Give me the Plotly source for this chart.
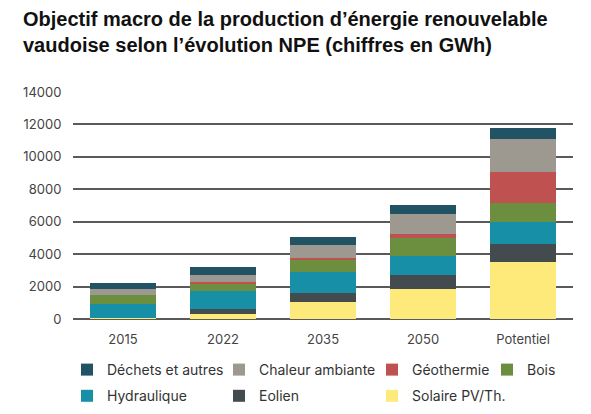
import plotly.graph_objects as go

categories = ["2015", "2022", "2035", "2050", "Potentiel"]

solaire = [75, 310, 1030, 1830, 3540]
eolien = [0, 290, 600, 865, 1110]
hydraulique = [865, 1130, 1255, 1170, 1360]
bois = [535, 475, 800, 1150, 1150]
geothermie = [0, 100, 60, 250, 1890]
chaleur = [355, 430, 845, 1215, 2080]
dechets = [360, 495, 495, 555, 680]

y_ticks = [0, 2000, 4000, 6000, 8000, 10000, 12000, 14000]

W, H = 591, 414

# (name, values, colour, legend id, rank)
series = [
    ("Solaire PV/Th.", solaire, "#fdea7b", "legend3", 2),
    ("Eolien", eolien, "#434b4f", "legend2", 2),
    ("Hydraulique", hydraulique, "#178fa7", "legend", 2),
    ("Bois", bois, "#6b8f3f", "legend4", 1),
    ("Géothermie", geothermie, "#bf5250", "legend3", 1),
    ("Chaleur ambiante", chaleur, "#9d9890", "legend2", 1),
    ("Déchets et autres", dechets, "#215365", "legend", 1),
]

fig = go.Figure()
for name, vals, col, lg, rank in series:
    fig.add_trace(go.Bar(
        x=categories, y=vals, name=name,
        marker=dict(color=col, line=dict(width=0)),
        width=0.66, legend=lg, legendrank=rank, legendgroup=name,
    ))

legend_font = dict(family="Inter, Liberation Sans, Arial", size=14, color="#333333")
def leg(xpx):
    return dict(
        xref="container", yref="container",
        x=xpx / W, y=1 - 346 / H, xanchor="left", yanchor="top",
        orientation="v", traceorder="grouped", tracegroupgap=5,
        font=legend_font, bgcolor="rgba(0,0,0,0)", borderwidth=0,
    )

# page body has an 8px offset; margins compensate so the plot lands where the reference has it
fig.update_layout(
    width=W, height=H,
    barmode="stack",
    paper_bgcolor="white", plot_bgcolor="white",
    margin=dict(l=65, r=26, t=84, b=103, pad=0, autoexpand=False),
    title=dict(
        text="Objectif macro de la production d’énergie renouvelable<br>vaudoise selon l’évolution NPE (chiffres en GWh)",
        font=dict(family="Liberation Sans, Arial", size=20, color="#111111", weight="bold"),
        xref="container", yref="container",
        x=15 / W, xanchor="left", y=1 - 17.5 / H, yanchor="top",
    ),
    showlegend=True,
    legend=leg(59),
    legend2=leg(211),
    legend3=leg(364),
    legend4=leg(479),
    xaxis=dict(
        type="category", range=[-0.5, 4.5],
        showgrid=False, showline=False, zeroline=False,
        ticks="outside", ticklen=8, tickcolor="rgba(0,0,0,0)",
        tickfont=dict(family="Inter, Liberation Sans, Arial", size=13, color="#444444"),
    ),
    yaxis=dict(
        range=[0, 14000], tickmode="array", tickvals=y_ticks,
        ticktext=[str(v) for v in y_ticks],
        showgrid=True, gridcolor="#5a5a5a", gridwidth=1.5,
        zeroline=True, zerolinecolor="#5a5a5a", zerolinewidth=1.5,
        showline=False,
        ticks="outside", ticklen=8, tickcolor="white",
        tickfont=dict(family="Inter, Liberation Sans, Arial", size=13, color="#444444"),
    ),
)

fig.write_html("out.html")
